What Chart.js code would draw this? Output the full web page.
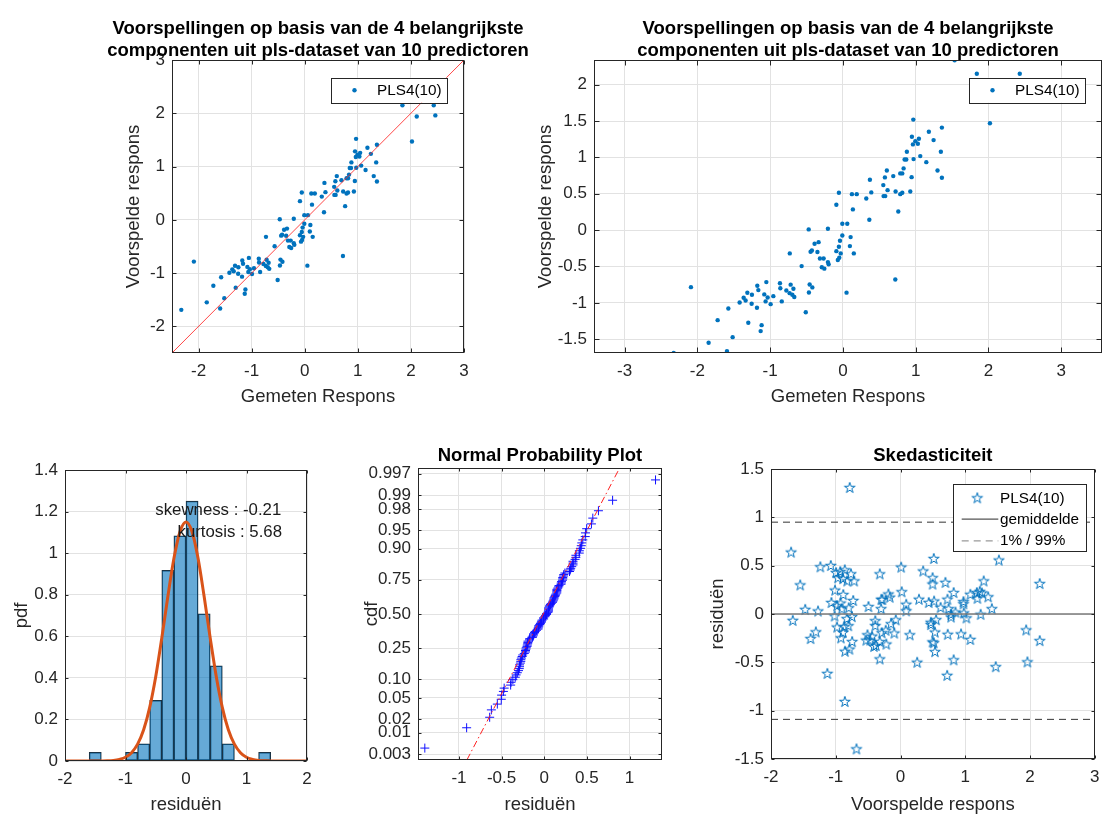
<!DOCTYPE html>
<html><head><meta charset="utf-8">
<script src="https://cdn.jsdelivr.net/npm/chart.js@4.4.1/dist/chart.umd.min.js"></script>
<style>
html,body{margin:0;padding:0;background:#fff;width:1108px;height:816px;overflow:hidden;position:relative}
canvas{position:absolute}
</style></head><body>
<canvas id="cTL"></canvas><canvas id="cTR"></canvas><canvas id="cHI"></canvas><canvas id="cNP"></canvas><canvas id="cSK"></canvas>
<script>
// ---------------- DATA ----------------
const measured = [1.535,1.84,2.43,2.02,0.967,1.36,1.181,0.948,1.044,1.246,
0.995,0.962,1.03,0.879,1.346,1.063,0.848,0.871,0.971,1.146,
0.834,1.30,0.604,0.788,0.816,0.692,0.944,1.36,0.577,0.371,
0.555,0.614,0.724,0.926,0.816,0.788,0.559,0.582,0.39,0.321,
-0.055,0.124,0.19,-0.09,0.137,0.761,0.363,-0.47,-0.206,-0.008,
0.06,-0.008,0.106,-0.04,-0.389,-0.334,0.096,-0.444,-0.426,-0.35,
-0.09,-0.03,0.15,-0.73,-0.316,-0.265,-0.05,-0.07,-0.206,-0.196,
-0.29,-0.255,-0.567,-0.055,0.72,-2.088,-1.052,-1.176,-0.865,-0.718,
-0.86,-0.68,-0.457,-0.42,-1.162,-1.313,-1.25,-1.08,-0.956,-0.777,
-0.732,-0.695,-0.668,-0.467,0.05,-1.364,-1.337,-1.419,-1.034,-1.062,
-0.993,-0.84,-1.254,-1.181,-1.574,-0.51,-1.721,-1.30,-1.117,-1.13,
-1.515,-1.845,-1.593,-2.325,2.11,2.46];
const predicted = [2.336,2.15,2.15,1.47,1.52,1.41,1.354,1.285,1.257,1.238,
1.224,1.179,1.188,1.078,1.078,1.018,0.972,0.972,0.977,0.935,
0.849,0.821,0.821,0.78,0.78,0.743,0.729,0.72,0.725,0.693,
0.619,0.55,0.532,0.532,0.514,0.495,0.468,0.468,0.519,0.436,
0.514,0.495,0.495,0.35,0.285,0.257,0.143,0.01,0.019,0.088,
0.088,-0.073,-0.096,-0.146,-0.187,-0.165,-0.22,-0.297,-0.28,-0.30,
-0.289,-0.32,-0.32,-0.32,-0.39,-0.39,-0.38,-0.41,-0.44,-0.47,
-0.51,-0.53,-0.495,-0.228,-0.68,-0.784,-0.715,-0.765,-0.73,-0.75,
-0.80,-0.806,-0.747,-0.788,-0.825,-0.861,-0.889,-0.884,-0.908,-0.83,
-0.867,-0.889,-0.92,-0.857,-0.86,-0.93,-0.967,-0.995,-0.926,-0.98,
-1.018,-0.98,-1.012,-1.067,-1.077,-1.13,-1.238,-1.274,-1.307,-1.389,
-1.472,-1.549,-1.664,-1.69,1.94,1.96];

const histCenters = [-1.5,-1.3,-1.1,-0.9,-0.7,-0.5,-0.3,-0.1,0.1,0.3,0.5,0.7,0.9,1.1,1.3];
const histHeights = [0.042,0,0,0.042,0.083,0.292,0.917,1.083,1.25,0.708,0.458,0.083,0,0,0.042];
const curveX = [-2.0,-1.9,-1.8,-1.7,-1.6,-1.5,-1.4,-1.3,-1.2,-1.1,-1.0,-0.9,-0.8,-0.7,-0.6,-0.5,-0.4,-0.3,-0.2,-0.1,0,
0.1,0.2,0.3,0.4,0.5,0.6,0.7,0.8,0.9,1.0,1.1,1.2,1.3,1.4,1.5,1.6,1.7,1.8,1.9,2.0];
const curveY = [0,0,0,0,0,0,0.0003,0.001,0.003,0.008,0.018,0.040,0.081,0.150,0.258,0.407,0.592,0.791,0.974,1.103,1.15,
1.103,0.974,0.791,0.592,0.407,0.258,0.150,0.081,0.040,0.018,0.008,0.003,0.001,0.0003,0,0,0,0,0,0];
const skewText = 'skewness : -0.21';
const kurtText = 'kurtosis : 5.68';

const npRefMean = -0.012, npRefSd = 0.313;
const upperLimit = 0.95, lowerLimit = -1.09, meanResidual = 0;

const tlTicks = [-2,-1,0,1,2,3];
const trXTicks = [-3,-2,-1,0,1,2,3];
const trYTicks = [-1.5,-1,-0.5,0,0.5,1,1.5,2];
const hiXTicks = [-2,-1,0,1,2];
const hiYTicks = [0,0.2,0.4,0.6,0.8,1,1.2,1.4];
const npXTicks = [-1,-0.5,0,0.5,1];
const npProbTicks = [0.003,0.01,0.02,0.05,0.10,0.25,0.50,0.75,0.90,0.95,0.98,0.99,0.997];
const npProbLabels = ['0.003','0.01','0.02','0.05','0.10','0.25','0.50','0.75','0.90','0.95','0.98','0.99','0.997'];
const skXTicks = [-2,-1,0,1,2,3];
const skYTicks = [-1.5,-1,-0.5,0,0.5,1,1.5];

const seriesName = 'PLS4(10)';
const titleTop = ['Voorspellingen op basis van de 4 belangrijkste','componenten uit pls-dataset van 10 predictoren'];

// ---------------- derived ----------------
const residuals = predicted.map((p,i)=>p - measured[i]);
function norminv(p){
 const a=[-3.969683028665376e+01,2.209460984245205e+02,-2.759285104469687e+02,1.383577518672690e+02,-3.066479806614716e+01,2.506628277459239e+00];
 const b=[-5.447609879822406e+01,1.615858368580409e+02,-1.556989798598866e+02,6.680131188771972e+01,-1.328068155288572e+01];
 const c=[-7.784894002430293e-03,-3.223964580411365e-01,-2.400758277161838e+00,-2.549732539343734e+00,4.374664141464968e+00,2.938163982698783e+00];
 const d=[7.784695709041462e-03,3.224671290700398e-01,2.445134137142996e+00,3.754408661907416e+00];
 const pl=0.02425, ph=1-pl; let q,r;
 if(p<pl){q=Math.sqrt(-2*Math.log(p));return (((((c[0]*q+c[1])*q+c[2])*q+c[3])*q+c[4])*q+c[5])/((((d[0]*q+d[1])*q+d[2])*q+d[3])*q+1);}
 if(p>ph){q=Math.sqrt(-2*Math.log(1-p));return -(((((c[0]*q+c[1])*q+c[2])*q+c[3])*q+c[4])*q+c[5])/((((d[0]*q+d[1])*q+d[2])*q+d[3])*q+1);}
 q=p-0.5;r=q*q;return (((((a[0]*r+a[1])*r+a[2])*r+a[3])*r+a[4])*r+a[5])*q/(((((b[0]*r+b[1])*r+b[2])*r+b[3])*r+b[4])*r+1);
}
const sortedRes = residuals.slice().sort((a,b)=>a-b);
const nRes = sortedRes.length;

// ---------------- style / layout ----------------
const FAM = '"Liberation Sans", Arial, Helvetica, sans-serif';
const AX = '#262626', GRID = '#e2e2e2', BLUE = '#0072BD';
const TICK_SIZE = 17, LABEL_SIZE = 18.5, TITLE_SIZE = 18.5, LEG_SIZE = 15.3;
Chart.defaults.font.family = FAM;
Chart.defaults.animation = false;
Chart.defaults.plugins.legend.display = false;
Chart.defaults.plugins.tooltip.enabled = false;
Chart.defaults.events = [];

const panels = {
 TL:{cl:0,  ct:0,  cw:545, ch:420, al:172, at:60,  ar:464,  ab:353, yTitleX:134,   xTitleY:397},
 TR:{cl:520,ct:0,  cw:588, ch:420, al:594, at:60,  ar:1102, ab:353, yTitleX:546,   xTitleY:397},
 HI:{cl:0,  ct:430,cw:335, ch:386, al:65,  at:470, ar:307,  ab:761, yTitleX:22,    xTitleY:804.5},
 NP:{cl:335,ct:430,cw:350, ch:386, al:418, at:468, ar:662,  ab:760, yTitleX:372,   xTitleY:804.5},
 SK:{cl:690,ct:430,cw:418, ch:386, al:771, at:469, ar:1100, ab:759, yTitleX:718,   xTitleY:804.5}
};
function setupCanvas(id, p){
 const c = document.getElementById(id);
 c.width = p.cw; c.height = p.ch;
 c.style.left = p.cl+'px'; c.style.top = p.ct+'px';
 c.style.width = p.cw+'px'; c.style.height = p.ch+'px';
 const lh = LABEL_SIZE*1.2;
 const padLeft = p.yTitleX - lh/2 - p.cl;
 const yW = p.al - p.cl - padLeft;
 const xH = p.xTitleY + lh/2 - p.ab;
 return {ctx:c.getContext('2d'), padding:{left:padLeft, top:p.at-p.ct, right:(p.cl+p.cw)-p.ar, bottom:Math.max(0,(p.ct+p.ch)-p.ab-xH)}, yW, xH};
}
function fmt(v){ return String(Math.round(v*1000)/1000); }
function axis(pos, min, max, tickVals, labels, title, fit){
 return {
  type:'linear', position:pos, min, max, offset:false,
  afterBuildTicks: s => { s.ticks = tickVals.map(v=>({value:v})); },
  afterFit: s => { if(pos==='left') s.width = fit; else s.height = fit; },
  grid:{color:GRID, lineWidth:1, drawTicks:false, offset:false},
  border:{display:false},
  ticks:{color:AX, font:{family:FAM,size:TICK_SIZE}, padding: pos==='left'?7:8.5, autoSkip:false, maxRotation:0,
    callback:(v,i)=> labels ? labels[i] : fmt(tickVals[i])},
  title:{display:true, text:title, color:AX, font:{family:FAM,size:LABEL_SIZE}, padding:0}
 };
}
function boxPlugin(tickLen){
 return {id:'mbox', afterDatasetsDraw(chart){
  const {ctx, chartArea:a, scales} = chart;
  const L=Math.round(a.left)+0.5, T=Math.round(a.top)+0.5, R=Math.round(a.right)-0.5, B=Math.round(a.bottom)-0.5;
  ctx.save(); ctx.strokeStyle=AX; ctx.lineWidth=1;
  ctx.strokeRect(L,T,R-L,B-T);
  ctx.beginPath();
  scales.x.ticks.forEach(t=>{const px=Math.round(scales.x.getPixelForValue(t.value))+0.5;
   ctx.moveTo(px,B); ctx.lineTo(px,B-tickLen); ctx.moveTo(px,T); ctx.lineTo(px,T+tickLen);});
  scales.y.ticks.forEach(t=>{const py=Math.round(scales.y.getPixelForValue(t.value))+0.5;
   ctx.moveTo(L,py); ctx.lineTo(L+tickLen,py); ctx.moveTo(R,py); ctx.lineTo(R-tickLen,py);});
  ctx.stroke(); ctx.restore();
 }};
}
function drawTitle(ctx, a, lines, baselines){
 ctx.save(); ctx.fillStyle='#000'; ctx.font='bold '+TITLE_SIZE+'px '+FAM;
 ctx.textAlign='center'; ctx.textBaseline='alphabetic';
 lines.forEach((t,i)=>ctx.fillText(t,(a.left+a.right)/2,baselines[i]));
 ctx.restore();
}
function legendFrame(ctx,x,y,w,h){
 ctx.save(); ctx.fillStyle='#fff'; ctx.fillRect(x,y,w,h);
 ctx.strokeStyle=AX; ctx.lineWidth=1; ctx.strokeRect(Math.round(x)+0.5,Math.round(y)+0.5,Math.round(w),Math.round(h)); ctx.restore();
}
function dotLegend(ctx,a){
 const w=116,h=25,x=a.right-17-w,y=a.top+17.7;
 legendFrame(ctx,x,y,w,h);
 ctx.save(); ctx.fillStyle=BLUE; ctx.beginPath(); ctx.arc(x+23.5,y+h/2,2.2,0,Math.PI*2); ctx.fill();
 ctx.fillStyle='#000'; ctx.font=LEG_SIZE+'px '+FAM; ctx.textBaseline='middle'; ctx.textAlign='left';
 ctx.fillText(seriesName,x+46,y+h/2+0.5); ctx.restore();
}
function pentagram(r,color){
 const s=Math.ceil(2*r+4); const c=document.createElement('canvas'); c.width=c.height=s;
 const g=c.getContext('2d'); g.strokeStyle=color; g.lineWidth=1;
 g.beginPath();
 for(let k=0;k<10;k++){const ang=-Math.PI/2+k*Math.PI/5; const rr=k%2? r*0.382: r;
  const x=s/2+rr*Math.cos(ang), y=s/2+rr*Math.sin(ang); if(k) g.lineTo(x,y); else g.moveTo(x,y);}
 g.closePath(); g.stroke(); return c;
}
const starImg = pentagram(5.6, BLUE);

// ---------------- TL ----------------
(function(){
 const p=panels.TL, L=setupCanvas('cTL',p);
 new Chart(L.ctx,{type:'scatter',
  data:{datasets:[
   {data:measured.map((m,i)=>({x:m,y:predicted[i]})), pointRadius:2.2, pointBackgroundColor:BLUE, pointBorderWidth:0, order:1},
   {type:'line', data:[{x:-2.5,y:-2.5},{x:3,y:3}], borderColor:'rgba(255,40,40,0.85)', borderWidth:1, pointRadius:0, order:0}
  ]},
  options:{responsive:false, layout:{padding:L.padding},
   scales:{x:axis('bottom',-2.5,3,tlTicks,null,'Gemeten Respons',L.xH), y:axis('left',-2.5,3,tlTicks,null,'Voorspelde respons',L.yW)}},
  plugins:[boxPlugin(4),{id:'ov',afterDraw(ch){const a=ch.chartArea; drawTitle(ch.ctx,a,titleTop,[a.top-26.5,a.top-4]); dotLegend(ch.ctx,a);}}]
 });
})();

// ---------------- TR ----------------
(function(){
 const p=panels.TR, L=setupCanvas('cTR',p);
 new Chart(L.ctx,{type:'scatter',
  data:{datasets:[
   {data:measured.map((m,i)=>({x:m,y:predicted[i]})), pointRadius:2.2, pointBackgroundColor:BLUE, pointBorderWidth:0}
  ]},
  options:{responsive:false, layout:{padding:L.padding},
   scales:{x:axis('bottom',-3.42,3.56,trXTicks,null,'Gemeten Respons',L.xH), y:axis('left',-1.69,2.34,trYTicks,null,'Voorspelde respons',L.yW)}},
  plugins:[boxPlugin(5),{id:'ov',afterDraw(ch){const a=ch.chartArea; drawTitle(ch.ctx,a,titleTop,[a.top-26.5,a.top-4]); dotLegend(ch.ctx,a);}}]
 });
})();

// ---------------- Histogram ----------------
(function(){
 const p=panels.HI, L=setupCanvas('cHI',p);
 new Chart(L.ctx,{type:'bar',
  data:{datasets:[
   {type:'line', data:curveX.map((x,i)=>({x,y:curveY[i]})), borderColor:'#D95319', borderWidth:3, pointRadius:0, cubicInterpolationMode:'monotone', order:0},
   {type:'bar', data:histCenters.map((c,i)=>({x:c,y:histHeights[i]})), backgroundColor:'rgba(0,114,189,0.6)', borderColor:'#1e2a33',
    borderWidth:(c)=> histHeights[c.dataIndex]>0?0.8:0, borderSkipped:false, barPercentage:1, categoryPercentage:1, order:1}
  ]},
  options:{responsive:false, layout:{padding:L.padding},
   scales:{x:axis('bottom',-2,2,hiXTicks,null,'residuën',L.xH), y:axis('left',0,1.4,hiYTicks,null,'pdf',L.yW)}},
  plugins:[boxPlugin(3),{id:'ov',afterDraw(ch){const {ctx,scales}=ch; ctx.save(); ctx.fillStyle='#1a1a1a'; ctx.font='16.8px '+FAM; ctx.textBaseline='middle'; ctx.textAlign='left';
    ctx.fillText(skewText, scales.x.getPixelForValue(-0.507), scales.y.getPixelForValue(1.206));
    ctx.fillText(kurtText, scales.x.getPixelForValue(-0.14), scales.y.getPixelForValue(1.10)); ctx.restore();}}]
 });
})();

// ---------------- Normal probability plot ----------------
(function(){
 const p=panels.NP, L=setupCanvas('cNP',p);
 const zTicks = npProbTicks.map(norminv);
 const zMin=-2.86, zMax=2.86;
 new Chart(L.ctx,{type:'scatter',
  data:{datasets:[
   {data:sortedRes.map((r,i)=>({x:r,y:norminv((i+0.5)/nRes)})), pointStyle:'cross', pointRadius:4.5, pointBorderColor:'#1010ff', pointBorderWidth:1, order:1},
   {type:'line', data:[{x:npRefMean+npRefSd*zMin,y:zMin},{x:npRefMean+npRefSd*zMax,y:zMax}], borderColor:'#ff2020', borderWidth:1, borderDash:[7,3,1.5,3], pointRadius:0, order:0}
  ]},
  options:{responsive:false, layout:{padding:L.padding},
   scales:{x:axis('bottom',-1.48,1.38,npXTicks,null,'residuën',L.xH), y:axis('left',zMin,zMax,zTicks,npProbLabels,'cdf',L.yW)}},
  plugins:[boxPlugin(3),{id:'ov',afterDraw(ch){const a=ch.chartArea; drawTitle(ch.ctx,a,['Normal Probability Plot'],[a.top-7.5]);}}]
 });
})();

// ---------------- Skedasticiteit ----------------
(function(){
 const p=panels.SK, L=setupCanvas('cSK',p);
 new Chart(L.ctx,{type:'scatter',
  data:{datasets:[
   {data:predicted.map((v,i)=>({x:v,y:residuals[i]})), pointStyle:starImg, order:1},
   {type:'line', data:[{x:-2,y:meanResidual},{x:3,y:meanResidual}], borderColor:'#7a7a7a', borderWidth:1.6, pointRadius:0, order:0},
   {type:'line', data:[{x:-2,y:upperLimit},{x:3,y:upperLimit}], borderColor:'#333', borderWidth:1, borderDash:[7,5], pointRadius:0, order:0},
   {type:'line', data:[{x:-2,y:lowerLimit},{x:3,y:lowerLimit}], borderColor:'#333', borderWidth:1, borderDash:[7,5], pointRadius:0, order:0}
  ]},
  options:{responsive:false, layout:{padding:L.padding},
   scales:{x:axis('bottom',-2,3,skXTicks,null,'Voorspelde respons',L.xH), y:axis('left',-1.5,1.5,skYTicks,null,'residuën',L.yW)}},
  plugins:[boxPlugin(3),{id:'ov',afterDraw(ch){const a=ch.chartArea, ctx=ch.ctx; drawTitle(ctx,a,['Skedasticiteit'],[a.top-8]);
    const x=a.left+182, y=a.top+15.3, w=133, h=67.4;
    legendFrame(ctx,x,y,w,h);
    ctx.save();
    ctx.drawImage(starImg, x+24.3-starImg.width/2, y+14-starImg.height/2);
    ctx.strokeStyle='#555'; ctx.lineWidth=1.3; ctx.beginPath(); ctx.moveTo(x+8.7,y+34.8); ctx.lineTo(x+45.3,y+34.8); ctx.stroke();
    ctx.strokeStyle='#999'; ctx.lineWidth=1.2; ctx.setLineDash([7,5]); ctx.beginPath(); ctx.moveTo(x+8.7,y+56.5); ctx.lineTo(x+45.3,y+56.5); ctx.stroke(); ctx.setLineDash([]);
    ctx.fillStyle='#000'; ctx.font=LEG_SIZE+'px '+FAM; ctx.textBaseline='middle'; ctx.textAlign='left';
    ctx.fillText(seriesName,x+47,y+14.5); ctx.fillText('gemiddelde',x+47,y+35); ctx.fillText('1% / 99%',x+47,y+56.5);
    ctx.restore();}}]
 });
})();
</script>
</body></html>
